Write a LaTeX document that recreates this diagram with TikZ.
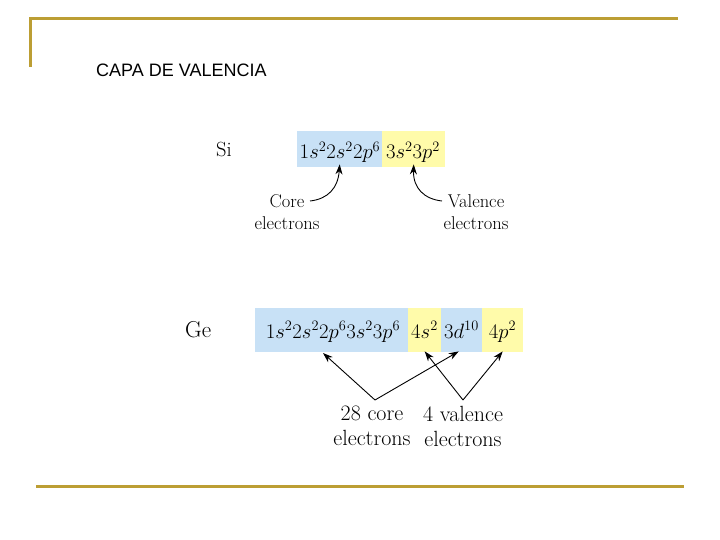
\documentclass[tikz,border=0pt]{standalone}
\usepackage{fontspec}
\newfontfamily\arialfont{Liberation Sans}
\usetikzlibrary{arrows.meta}
\definecolor{gold}{RGB}{188,158,52}
\definecolor{lblue}{RGB}{200,225,246}
\definecolor{lyellow}{RGB}{255,251,170}
\tikzset{
  goldline/.style={draw=gold, line width=3pt},
  bluebox/.style={fill=lblue, draw=none, inner sep=0pt, anchor=north west},
  yellowbox/.style={fill=lyellow, draw=none, inner sep=0pt, anchor=north west},
  sitext/.style={inner sep=0pt, anchor=base, font=\fontsize{21}{24}\selectfont},
  getext/.style={inner sep=0pt, anchor=base, font=\fontsize{22.5}{26}\selectfont},
  silbl/.style={inner sep=0pt, anchor=north, align=center, font=\fontsize{18.5}{22}\selectfont},
  gelbl/.style={inner sep=0pt, anchor=north, align=center, font=\fontsize{22}{25}\selectfont},
  arr/.style={-{Stealth[length=10pt,width=7pt]}, line width=0.9pt, black},
}
\begin{document}
\begin{tikzpicture}[x=1pt,y=-1pt]
\useasboundingbox (0,0) rectangle (720,540);
% frame lines
\coordinate (tl) at (30,19);
\coordinate (tr) at (678,19);
\coordinate (bl) at (30,67);
\coordinate (b1) at (36,486);
\coordinate (b2) at (684,486);
\draw[goldline] (bl) -- (tl) -- (tr);
\draw[goldline] (b1) -- (b2);
\node[inner sep=0pt, anchor=base west, font=\arialfont\fontsize{18}{20}\selectfont] (title) at (96,77) {CAPA DE VALENCIA};

% Si row
\node[inner sep=0pt, anchor=base west, font=\fontsize{20.5}{24}\selectfont] (si) at (216,157) {Si};
\node[bluebox, minimum width=85pt, minimum height=36pt] (sicore) at (297,131) {};
\node[yellowbox, minimum width=63pt, minimum height=36pt] (sival) at (382,131) {};
\node[sitext] (sicoretxt) at (340,159) {$1s^2 2s^2 2p^6$};
\node[sitext] (sivaltxt) at (413,159) {$3s^2 3p^2$};
\node[silbl] (corelbl) at (287,194) {Core\\electrons};
\node[silbl] (vallbl) at (476,194) {Valence\\electrons};
\coordinate (cs) at (310,201);
\coordinate (vs) at (442,201);
\draw[arr] (cs) .. controls (328,199) and (338,188) .. ([yshift=3pt]sicore.south);
\draw[arr] (vs) .. controls (424,199) and (413,188) .. ([yshift=3pt]sival.south);

% Ge row
\node[inner sep=0pt, anchor=base west, font=\fontsize{23}{26}\selectfont] (ge) at (185,337) {Ge};
\node[bluebox, minimum width=153pt, minimum height=44pt] (gecore1) at (255,308) {};
\node[yellowbox, minimum width=33pt, minimum height=44pt] (geval1) at (408,308) {};
\node[bluebox, minimum width=41pt, minimum height=44pt] (gecore2) at (441,308) {};
\node[yellowbox, minimum width=41pt, minimum height=44pt] (geval2) at (482,308) {};
\node[getext] (gecore1txt) at (333,338) {$1s^2 2s^2 2p^6 3s^2 3p^6$};
\node[getext] (geval1txt) at (424.5,338) {$4s^2$};
\node[getext] (gecore2txt) at (461.5,338) {$3d^{10}$};
\node[getext] (geval2txt) at (502.5,338) {$4p^2$};
\node[gelbl] (corelbl2) at (372,406) {28 core\\electrons};
\node[gelbl] (vallbl2) at (463,406) {4 valence\\electrons};
\coordinate (c2) at (375,400);
\coordinate (v2) at (463,400);
\coordinate (c2tip) at (323,353);
\draw[arr] (c2) -- (c2tip);
\draw[arr] (c2) -- ([xshift=-3pt,yshift=1pt]gecore2.south);
\draw[arr] (v2) -- ([yshift=1pt]geval1.south);
\draw[arr] (v2) -- ([yshift=1pt]geval2.south);
\end{tikzpicture}
\end{document}
